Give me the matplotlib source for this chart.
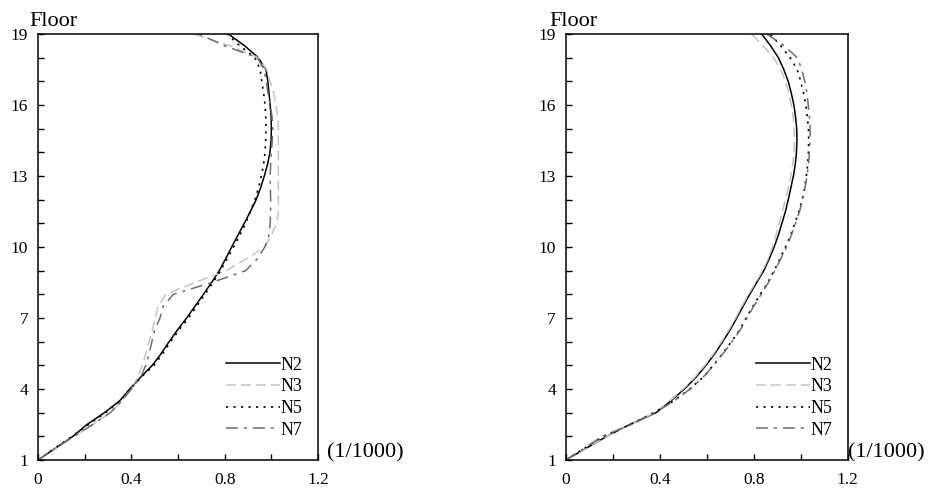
import matplotlib
matplotlib.use("Agg")
import matplotlib.pyplot as plt
from matplotlib.ticker import MultipleLocator, FixedLocator, FuncFormatter

plt.rcParams['font.family'] = ['Liberation Serif', 'DejaVu Serif']

floors = [1, 1.5, 2, 2.5, 3, 3.5, 4, 4.5, 5, 5.5, 6, 6.5, 7, 7.5, 8, 8.5, 9, 9.5,
          10, 10.5, 11, 11.5, 12, 12.5, 13, 13.5, 14, 14.5, 15, 15.5, 16, 16.5,
          17, 17.5, 18, 18.5, 19]

series_names = ["N2", "N3", "N5", "N7"]

# Left chart
left_n2 = [0, 0.075, 0.15, 0.21, 0.285, 0.35, 0.393, 0.44, 0.49, 0.528, 0.562, 0.598,
           0.637, 0.673, 0.709, 0.744, 0.777, 0.804, 0.83, 0.857, 0.884, 0.91, 0.935,
           0.954, 0.97, 0.984, 0.994, 0.999, 1.0, 0.999, 0.995, 0.99, 0.985, 0.977,
           0.944, 0.886, 0.816]
left_n3 = [0, 0.075, 0.155, 0.235, 0.31, 0.36, 0.398, 0.428, 0.447, 0.462, 0.476, 0.49,
           0.503, 0.515, 0.548, 0.673, 0.806, 0.894, 0.972, 1.0, 1.023, 1.03, 1.03,
           1.03, 1.03, 1.03, 1.03, 1.03, 1.03, 1.028, 1.02, 1.01, 0.995, 0.98,
           0.944, 0.823, 0.666]
left_n5 = [0, 0.073, 0.146, 0.217, 0.29, 0.352, 0.395, 0.442, 0.497, 0.535, 0.568, 0.605,
           0.645, 0.68, 0.715, 0.75, 0.782, 0.81, 0.838, 0.865, 0.89, 0.91, 0.93,
           0.945, 0.957, 0.967, 0.973, 0.976, 0.977, 0.976, 0.973, 0.967, 0.959, 0.952,
           0.93, 0.865, 0.81]
left_n7 = [0, 0.075, 0.155, 0.235, 0.31, 0.36, 0.4, 0.44, 0.462, 0.477, 0.488, 0.5,
           0.523, 0.537, 0.58, 0.745, 0.89, 0.94, 0.972, 0.99, 0.995, 0.997, 0.997,
           0.996, 0.995, 0.997, 1.0, 1.004, 1.006, 1.003, 0.995, 0.986, 0.978, 0.968,
           0.94, 0.8, 0.69]

# Right chart
right_n2 = [0, 0.088, 0.175, 0.273, 0.385, 0.448, 0.505, 0.555, 0.597, 0.635, 0.668, 0.70,
            0.728, 0.755, 0.783, 0.813, 0.843, 0.866, 0.887, 0.905, 0.92, 0.935, 0.947,
            0.958, 0.969, 0.977, 0.982, 0.984, 0.983, 0.978, 0.971, 0.96, 0.947, 0.928,
            0.905, 0.872, 0.834]
right_n3 = [0, 0.088, 0.175, 0.275, 0.38, 0.443, 0.5, 0.55, 0.592, 0.63, 0.663, 0.695,
            0.723, 0.75, 0.778, 0.808, 0.838, 0.861, 0.88, 0.895, 0.908, 0.922, 0.935,
            0.947, 0.958, 0.966, 0.972, 0.973, 0.972, 0.968, 0.96, 0.95, 0.935, 0.915,
            0.885, 0.84, 0.79]
right_n5 = [0, 0.08, 0.16, 0.275, 0.375, 0.46, 0.528, 0.585, 0.628, 0.668, 0.705, 0.74,
            0.768, 0.797, 0.828, 0.86, 0.887, 0.912, 0.935, 0.957, 0.975, 0.992, 1.006,
            1.017, 1.024, 1.03, 1.033, 1.034, 1.033, 1.028, 1.022, 1.012, 1.0, 0.985,
            0.955, 0.915, 0.87]
right_n7 = [0, 0.08, 0.155, 0.28, 0.38, 0.462, 0.53, 0.585, 0.63, 0.67, 0.708, 0.743,
            0.772, 0.8, 0.832, 0.863, 0.89, 0.915, 0.94, 0.96, 0.978, 0.995, 1.008,
            1.018, 1.027, 1.033, 1.037, 1.04, 1.04, 1.037, 1.032, 1.027, 1.017, 1.005,
            0.985, 0.93, 0.855]

x_ticks_major = [0, 0.4, 0.8, 1.2]
y_ticks_major = [1, 4, 7, 10, 13, 16, 19]
x_label_unit = "(1/1000)"
y_label = "Floor"

styles = [
    dict(color="black", linestyle="-", linewidth=1.1),
    dict(color="#c4c4c4", linestyle=(0, (6.5, 3.3)), linewidth=1.1),
    dict(color="black", linestyle=(0, (1.3, 3.2)), linewidth=1.2),
    dict(color="#6e6e6e", linestyle=(0, (7.8, 3.9, 2.0, 3.9)), linewidth=1.1),
]

fig = plt.figure(figsize=(9.36, 4.96), dpi=100)
ax_l = fig.add_axes([38/936, 36/496, 280/936, 426/496])
ax_r = fig.add_axes([565.7/936, 36/496, 282/936, 426/496])

panels = [
    (ax_l, [left_n2, left_n3, left_n5, left_n7], -0.032, 1.032),
    (ax_r, [right_n2, right_n3, right_n5, right_n7], -0.059, 1.001),
]

for ax, data, floor_x, unit_x in panels:
    for name, vals, st in zip(series_names, data, styles):
        ax.plot(vals, floors, label=name, **st)
    ax.set_xlim(0, 1.2)
    ax.set_ylim(1, 19)
    ax.xaxis.set_major_locator(FixedLocator(x_ticks_major))
    ax.xaxis.set_major_formatter(FuncFormatter(lambda v, p: f"{v:g}"))
    ax.xaxis.set_minor_locator(MultipleLocator(0.2))
    ax.yaxis.set_major_locator(FixedLocator(y_ticks_major))
    ax.yaxis.set_minor_locator(MultipleLocator(1))
    ax.tick_params(which="both", direction="in", top=False, right=False,
                   length=4, width=1.0, labelsize=12.5)
    ax.tick_params(axis="x", which="major", pad=9)
    ax.tick_params(axis="y", which="major", pad=7)
    for sp in ax.spines.values():
        sp.set_linewidth(1.1)
        sp.set_color("black")
    ax.text(floor_x, 1.019, y_label, transform=ax.transAxes, fontsize=16,
            ha="left", va="baseline")
    ax.text(unit_x, 0.016, x_label_unit, transform=ax.transAxes, fontsize=16,
            ha="left", va="center", clip_on=False)
    leg = ax.legend(loc="lower right", bbox_to_anchor=(0.946, 0.05), frameon=False,
                    handlelength=3.0, handletextpad=0.05, labelspacing=0.26,
                    borderaxespad=0, borderpad=0, fontsize=13)

fig.savefig("out.png", dpi=100)
